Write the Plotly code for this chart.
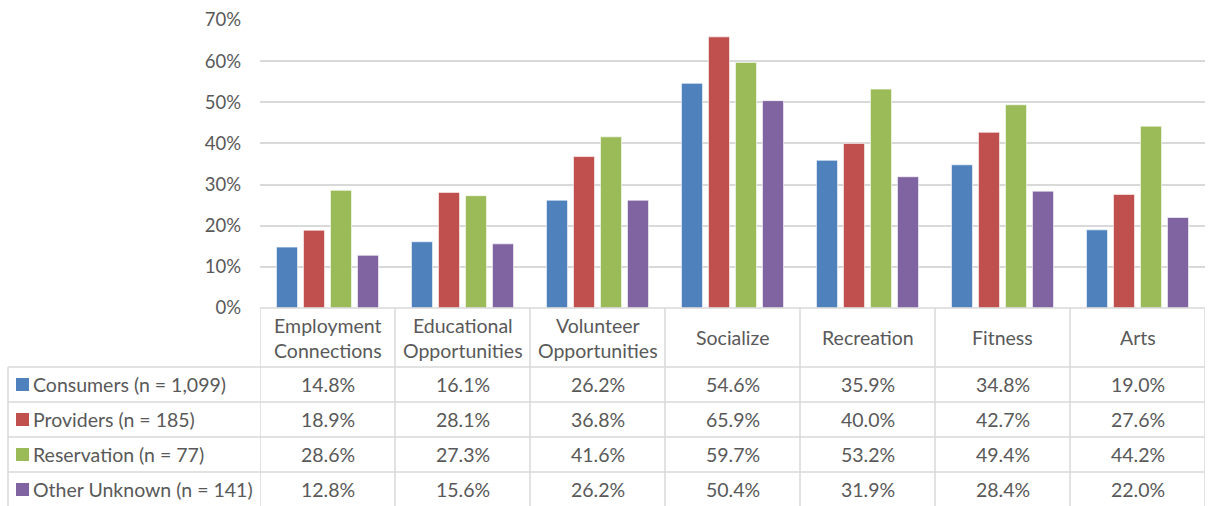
import plotly.graph_objects as go

# ## Data

categories = ['Employment<br>Connections', 'Educational<br>Opportunities', 'Volunteer<br>Opportunities',
              'Socialize', 'Recreation', 'Fitness', 'Arts']
series_names = ['Consumers (n = 1,099)', 'Providers (n = 185)', 'Reservation (n = 77)', 'Other Unknown (n = 141)']
consumers = [14.8, 16.1, 26.2, 54.6, 35.9, 34.8, 19.0]
providers = [18.9, 28.1, 36.8, 65.9, 40.0, 42.7, 27.6]
reservation = [28.6, 27.3, 41.6, 59.7, 53.2, 49.4, 44.2]
other_unknown = [12.8, 15.6, 26.2, 50.4, 31.9, 28.4, 22.0]
y_ticks = [0, 10, 20, 30, 40, 50, 60, 70]
y_tick_labels = ['0%', '10%', '20%', '30%', '40%', '50%', '60%', '70%']

series_values = [consumers, providers, reservation, other_unknown]
colors = ['#4F81BD', '#C0504D', '#9BBB59', '#8064A2']

# ## Layout geometry (pixels)

W, H = 1220, 506
L, R, T, B = 260, 15, 20, 198
PW, PH = W - L - R, H - T - B
TEXT = '#595959'
GRID = '#D9D9D9'
FONT = 'Lato'
FS = 19.5


def px_x(p):
    return (p - L) / PW


def px_y(p):
    return 1 - (p - T) / PH


header_top = T + PH
header_h = 59
row_h = 35
row_tops = [header_top + header_h + i * row_h for i in range(len(series_names) + 1)]
legend_left = 8

# ## Bars

fig = go.Figure()
for name, vals, col in zip(series_names, series_values, colors):
    fig.add_trace(go.Bar(
        name=name, x=list(range(len(categories))), y=vals,
        marker=dict(color=col, line=dict(color='white', width=0.6)),
        showlegend=False, hoverinfo='y',
    ))

shapes = []
annotations = []

# x axis line / header top
shapes.append(dict(type='line', xref='paper', yref='paper', x0=0, x1=1, y0=0, y1=0,
                   line=dict(color=GRID, width=1.5)))
# horizontal table lines
for rt in row_tops[:-1]:
    shapes.append(dict(type='line', xref='paper', yref='paper', x0=px_x(legend_left), x1=1,
                       y0=px_y(rt), y1=px_y(rt), line=dict(color=GRID, width=1.5)))
# vertical category boundaries
for i in range(len(categories) + 1):
    shapes.append(dict(type='line', xref='x', yref='paper', x0=i - 0.5, x1=i - 0.5,
                       y0=0, y1=px_y(H + 2), line=dict(color=GRID, width=1.5)))
# legend column left border
shapes.append(dict(type='line', xref='paper', yref='paper', x0=px_x(legend_left), x1=px_x(legend_left),
                   y0=px_y(row_tops[0]), y1=px_y(H + 2), line=dict(color=GRID, width=1.5)))

# header labels
for i, cat in enumerate(categories):
    annotations.append(dict(x=i, y=px_y(header_top + header_h / 2), xref='x', yref='paper',
                            text=cat, showarrow=False, xanchor='center', yanchor='middle',
                            font=dict(size=FS, color=TEXT, family=FONT)))

# rows
for r, (name, vals, col) in enumerate(zip(series_names, series_values, colors)):
    yc = row_tops[r] + row_h / 2
    shapes.append(dict(type='rect', xref='paper', yref='paper', x0=px_x(16), x1=px_x(29),
                       y0=px_y(yc - 6.5), y1=px_y(yc + 6.5), fillcolor=col, line=dict(width=0)))
    annotations.append(dict(x=px_x(31), y=px_y(yc), xref='paper', yref='paper', text=name,
                            showarrow=False, xanchor='left', yanchor='middle',
                            font=dict(size=FS, color=TEXT, family=FONT)))
    for i, v in enumerate(vals):
        annotations.append(dict(x=i, y=px_y(yc), xref='x', yref='paper', text=f'{v:.1f}%',
                                showarrow=False, xanchor='center', yanchor='middle',
                                font=dict(size=FS, color=TEXT, family=FONT)))

fig.update_layout(
    width=W, height=H,
    margin=dict(l=L, r=R, t=T, b=B, autoexpand=False),
    paper_bgcolor='white', plot_bgcolor='white',
    barmode='group', bargap=0.2, bargroupgap=0.22,
    font=dict(family=FONT, color=TEXT),
    xaxis=dict(range=[-0.5, len(categories) - 0.5], showticklabels=False, showgrid=False,
               zeroline=False, showline=False, fixedrange=True, automargin=False),
    yaxis=dict(range=[0, 70], tickmode='array', tickvals=y_ticks, ticktext=y_tick_labels,
               showgrid=True, gridcolor=GRID, gridwidth=1.5, zeroline=False, showline=False,
               ticks='', ticklabelstandoff=18, automargin=False,
               tickfont=dict(size=18.5, color=TEXT, family=FONT), fixedrange=True),
    shapes=shapes,
    annotations=annotations,
)

# page body has an 8px default margin; drop it so the figure fills the window
fig.write_html('out.html', config={'displayModeBar': False},
               post_script="document.body.style.margin='0';")
